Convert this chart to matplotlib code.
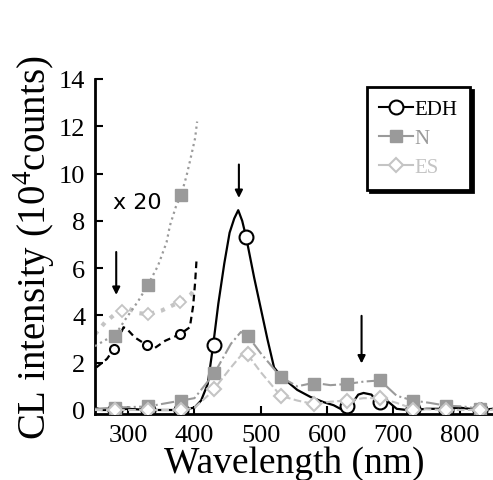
import numpy as np
import matplotlib
matplotlib.use("Agg")
import matplotlib.pyplot as plt
from matplotlib.lines import Line2D

# wavelength (nm) / intensity (1e4 counts)
edh_nm = [250, 260, 280, 300, 330, 350, 380, 400, 410, 420, 428, 436, 445, 453, 460, 466,
          472, 478, 490, 500, 510, 520, 530, 540, 555, 575, 595, 610, 620, 632, 647, 655,
          667, 677, 690, 705, 720, 730, 750, 780, 800, 830, 850]
edh_cl = [0.1, 0.0, 0.0, 0.05, 0.0, 0.0, 0.0, 0.1, 0.4, 1.1, 2.7, 4.5, 6.2, 7.5, 8.1, 8.45,
          8.0, 7.3, 5.6, 4.3, 3.0, 1.8, 1.45, 1.2, 0.85, 0.55, 0.33, 0.2, 0.05, 0.05, 0.65, 0.72,
          0.65, 0.25, 0.4, 0.05, 0.0, 0.0, 0.05, 0.05, 0.1, 0.0, 0.05]
edh_mark_nm = [280, 330, 380, 430, 478, 630, 680, 730, 780, 830]
edh_mark_cl = [0.0, 0.0, 0.0, 2.75, 7.3, 0.18, 0.32, 0.04, 0.0, 0.0]

n_nm = [250, 280, 330, 380, 400, 430, 455, 470, 480, 500, 530, 555, 580, 605, 630, 655,
        680, 705, 730, 755, 780, 805, 830, 850]
n_cl = [0.05, 0.1, 0.15, 0.4, 0.5, 1.55, 2.8, 3.3, 3.15, 2.4, 1.4, 1.0, 1.15, 1.05, 1.1, 1.2,
        1.25, 0.6, 0.4, 0.3, 0.18, 0.15, 0.05, 0.05]
n_mark_nm = [280, 330, 380, 430, 480, 530, 580, 630, 680, 730, 780, 830]
n_mark_cl = [0.1, 0.15, 0.4, 1.55, 3.15, 1.4, 1.1, 1.1, 1.25, 0.4, 0.18, 0.05]

es_nm = [250, 280, 330, 380, 400, 420, 430, 455, 470, 480, 500, 530, 555, 580, 605, 630,
         655, 680, 705, 730, 780, 830, 850]
es_cl = [0.0, 0.0, 0.0, 0.0, 0.1, 0.6, 0.9, 1.8, 2.3, 2.35, 1.6, 0.6, 0.4, 0.25, 0.35, 0.4,
         0.5, 0.5, 0.3, 0.05, 0.0, 0.0, 0.0]
es_mark_nm = [280, 330, 380, 430, 480, 530, 580, 630, 680, 730, 780, 830]
es_mark_cl = [0.0, 0.0, 0.0, 0.9, 2.35, 0.6, 0.25, 0.4, 0.5, 0.0, 0.0, 0.0]

# x20 magnified part (UV side)
edh20_nm = [252, 268, 279, 293, 298, 310, 325, 338, 356, 378, 393, 398, 401, 403]
edh20_cl = [1.8, 2.16, 2.6, 3.5, 3.43, 3.07, 2.8, 2.58, 2.93, 3.2, 3.5, 4.4, 5.4, 6.3]
edh20_mark_nm = [279, 328, 378]
edh20_mark_cl = [2.6, 2.75, 3.2]

n20_nm = [250, 265, 280, 295, 315, 330, 345, 358, 363, 372, 380, 388, 393, 401, 404]
n20_cl = [2.7, 2.95, 3.15, 3.8, 4.6, 5.3, 6.1, 7.1, 7.8, 8.6, 9.1, 9.9, 10.5, 11.5, 12.2]
n20_mark_nm = [280, 330, 380]
n20_mark_cl = [3.15, 5.3, 9.1]

es20_nm = [250, 265, 280, 300, 315, 330, 350, 365, 380, 395, 400]
es20_cl = [3.2, 3.7, 4.05, 4.3, 4.1, 4.05, 4.2, 4.4, 4.6, 4.9, 5.1]
es20_mark_nm = [290, 330, 378]
es20_mark_cl = [4.2, 4.05, 4.55]

# arrows: x, top, tip
arrow_nm = [282, 467, 652]
arrow_top = [6.8, 10.5, 4.1]
arrow_tip = [4.75, 8.85, 1.85]

black = "k"
grey = "#9a9a9a"
light = "#c4c4c4"

plt.rcParams['font.family'] = ['Liberation Serif', 'DejaVu Serif']
plt.rcParams['mathtext.fontset'] = 'custom'
plt.rcParams['mathtext.rm'] = 'Liberation Serif'

fig = plt.figure(figsize=(4.93, 4.81), dpi=100)
ax = fig.add_axes([0.1927, 0.1372, 0.807, 0.6965])

# EDH
ax.plot(edh_nm, edh_cl, color=black, lw=1.6, zorder=2)
ax.plot(edh_mark_nm, edh_mark_cl, ls="none", marker="o", ms=10, mfc="white",
        mec=black, mew=1.5, zorder=2)
ax.plot(edh20_nm, edh20_cl, color=black, lw=1.6, ls=(0, (3, 2)), zorder=2)
ax.plot(edh20_mark_nm, edh20_mark_cl, ls="none", marker="o", ms=6.5, mfc="white",
        mec=black, mew=1.5, zorder=2)

# N
ax.plot(n_nm, n_cl, color=grey, lw=1.5, ls="-.", zorder=3)
ax.plot(n_mark_nm, n_mark_cl, ls="none", marker="s", ms=9, mfc=grey, mec=grey, zorder=3)
ax.plot(n20_nm, n20_cl, color=grey, lw=1.6, ls=":", zorder=3)
ax.plot(n20_mark_nm, n20_mark_cl, ls="none", marker="s", ms=8, mfc=grey, mec=grey, zorder=3)

# ES
ax.plot(es_nm, es_cl, color=light, lw=1.5, ls="--", zorder=4)
ax.plot(es_mark_nm, es_mark_cl, ls="none", marker="D", ms=7.5, mfc="white",
        mec=light, mew=1.5, zorder=4)
ax.plot(es20_nm, es20_cl, color=light, lw=3, ls=":", zorder=1)
ax.plot(es20_mark_nm, es20_mark_cl, ls="none", marker="D", ms=6, mfc="white",
        mec=light, mew=1.3, zorder=1)

for x, y0, y1 in zip(arrow_nm, arrow_top, arrow_tip):
    ax.annotate("", xy=(x, y1), xytext=(x, y0),
                arrowprops=dict(arrowstyle="-|>", color="k", lw=1.5, mutation_scale=11))

ax.text(277, 8.8, "x 20", fontsize=16, family="DejaVu Sans", va="center", ha="left")

ax.set_xlim(250, 850)
ax.set_ylim(-0.17, 14)
ax.set_xticks([300, 400, 500, 600, 700, 800])
ax.set_yticks(np.arange(0, 15, 2))
ax.spines["top"].set_visible(False)
ax.spines["right"].set_visible(False)
ax.spines["left"].set_linewidth(2)
ax.spines["bottom"].set_linewidth(2)
ax.tick_params(direction="in", length=6, width=1.5, labelsize=19, pad=7)
ax.set_xlabel("Wavelength (nm)", fontsize=27, labelpad=0)
ax.set_ylabel("CL intensity (10$^4$counts)", fontsize=28, labelpad=1)

handles = [Line2D([], [], color=black, lw=1.5, marker="o", ms=10, mfc="white", mec=black, mew=1.5),
           Line2D([], [], color=grey, lw=1.5, marker="s", ms=9, mfc=grey, mec=grey),
           Line2D([], [], color=light, lw=1.5, marker="D", ms=7.5, mfc="white", mec=light, mew=1.5)]
leg = ax.legend(handles, ["EDH", "N", "ES"], loc="upper left", bbox_to_anchor=(0.683, 0.976),
                borderaxespad=0, fancybox=False, edgecolor="k", framealpha=1, prop={"size": 15},
                shadow={"facecolor": "k", "edgecolor": "k", "alpha": 1},
                handlelength=1.6, labelspacing=0.45, borderpad=0.6, handletextpad=0.1)
leg.get_frame().set_linewidth(2)
for t, c in zip(leg.get_texts(), [black, grey, light]):
    t.set_color(c)

fig.savefig("out.png", dpi=100)
